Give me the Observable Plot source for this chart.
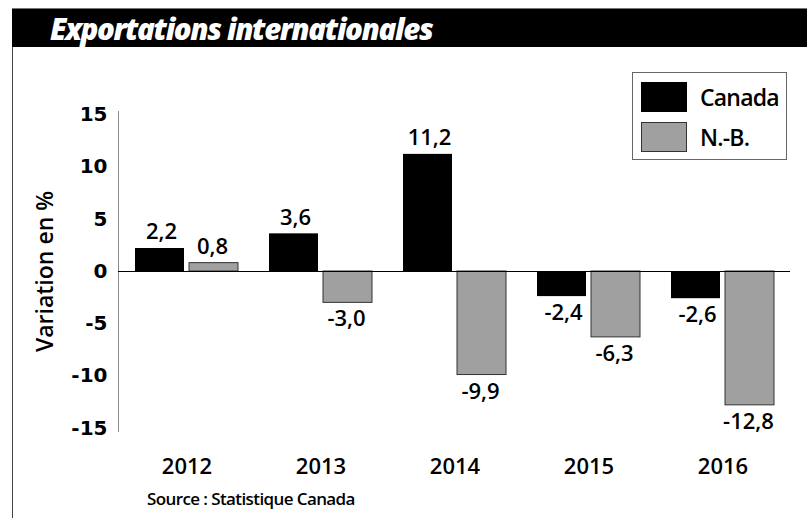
<!DOCTYPE html>
<html>
<head>
<meta charset="utf-8">
<script src="https://cdn.jsdelivr.net/npm/d3@7"></script>
<script src="https://cdn.jsdelivr.net/npm/@observablehq/plot@0.6"></script>
<style>
  html, body { margin: 0; padding: 0; background: #fff; }
  #wrap { position: relative; width: 807px; height: 518px; overflow: hidden; font-family: "Open Sans", sans-serif; }
  #header { position: absolute; left: 12px; top: 8px; width: 795px; height: 38px; background: #000; border-top: 1px solid #777; }
  #header span { position: absolute; left: 38px; top: 0; line-height: 40px; color: #fff; font-weight: 800; font-style: italic; font-size: 29.5px; letter-spacing: -1.4px; white-space: nowrap; }
  #leftline { position: absolute; left: 12px; top: 47px; width: 1px; height: 471px; background: #444; }
  #chart { position: absolute; left: 0; top: 47px; }
  #legend { position: absolute; left: 632px; top: 72px; width: 155px; height: 88px; border: 1px solid #666; background: #fff; box-sizing: border-box; }
  .sw { position: absolute; left: 8px; width: 46px; height: 30px; box-sizing: border-box; }
  .lt { position: absolute; left: 67px; font-size: 23px; font-weight: 600; letter-spacing: -0.8px; line-height: 30px; color: #000; }
  #caption { position: absolute; left: 147px; top: 487px; font-size: 17px; font-weight: 600; letter-spacing: -0.6px; color: #000; white-space: nowrap; }
</style>
</head>
<body>
<div id="wrap">
  <div id="header"><span>Exportations internationales</span></div>
  <div id="leftline"></div>
  <div id="chart"></div>
  <div id="legend">
    <div class="sw" style="top:9px;background:#000;"></div>
    <div class="lt" style="top:9px;">Canada</div>
    <div class="sw" style="top:49px;background:#a0a0a0;border:1px solid #333;"></div>
    <div class="lt" style="top:49px;">N.-B.</div>
  </div>
  <div id="caption">Source : Statistique Canada</div>
</div>
<script>
const years = ["2012", "2013", "2014", "2015", "2016"];
const canada = [2.2, 3.6, 11.2, -2.4, -2.6];
const nb = [0.8, -3.0, -9.9, -6.3, -12.8];
const yTicks = [-15, -10, -5, 0, 5, 10, 15];

const rows = [];
years.forEach((y, i) => {
  rows.push({year: y, series: "Canada", value: canada[i]});
  rows.push({year: y, series: "N.-B.", value: nb[i]});
});
const ca = rows.filter(d => d.series === "Canada");
const nbr = rows.filter(d => d.series === "N.-B.");
const fmt = v => v.toFixed(1).replace(".", ",");
const font = "Open Sans, sans-serif";

const half = 54;
const off = 25.5;

const chart = Plot.plot({
  width: 807,
  height: 430,
  marginLeft: 118,
  marginRight: 17,
  marginTop: 64,
  marginBottom: 46,
  style: {fontFamily: font, background: "transparent", overflow: "visible"},
  x: {domain: years, paddingInner: 0.233, paddingOuter: 0.119},
  y: {domain: [-15.3, 15.3]},
  marks: [
    Plot.frame({anchor: "left", stroke: "#888"}),
    Plot.axisY({ticks: yTicks, tickSize: 0, tickPadding: 11, tickFormat: d => String(d), fontSize: 20, fontWeight: "bold", fontFamily: "DejaVu Sans", label: null}),
    Plot.axisX({tickSize: 0, tickPadding: 27, fontSize: 22, fontWeight: 600, label: null}),
    Plot.barY(ca, {x: "year", y: "value", fill: "#000", insetRight: half}),
    Plot.barY(nbr, {x: "year", y: "value", fill: "#a0a0a0", stroke: "#333", strokeWidth: 1, insetLeft: half}),
    Plot.ruleY([0], {stroke: "#000", strokeWidth: 1}),
    Plot.text(ca.filter(d => d.value >= 0), {x: "year", y: "value", text: d => fmt(d.value), dx: -off, dy: -9, lineAnchor: "bottom", fontSize: 22, fontWeight: 600}),
    Plot.text(ca.filter(d => d.value < 0), {x: "year", y: "value", text: d => fmt(d.value), dx: -off, dy: 8, lineAnchor: "top", fontSize: 22, fontWeight: 600}),
    Plot.text(nbr.filter(d => d.value >= 0), {x: "year", y: "value", text: d => fmt(d.value), dx: off, dy: -9, lineAnchor: "bottom", fontSize: 22, fontWeight: 600}),
    Plot.text(nbr.filter(d => d.value < 0), {x: "year", y: "value", text: d => fmt(d.value), dx: off, dy: 8, lineAnchor: "top", fontSize: 22, fontWeight: 600}),
    Plot.text(["Variation en %"], {frameAnchor: "left", textAnchor: "middle", dx: -73, rotate: -90, fontSize: 23, fontWeight: 600, text: d => d})
  ]
});
document.getElementById("chart").appendChild(chart);
</script>
</body>
</html>
